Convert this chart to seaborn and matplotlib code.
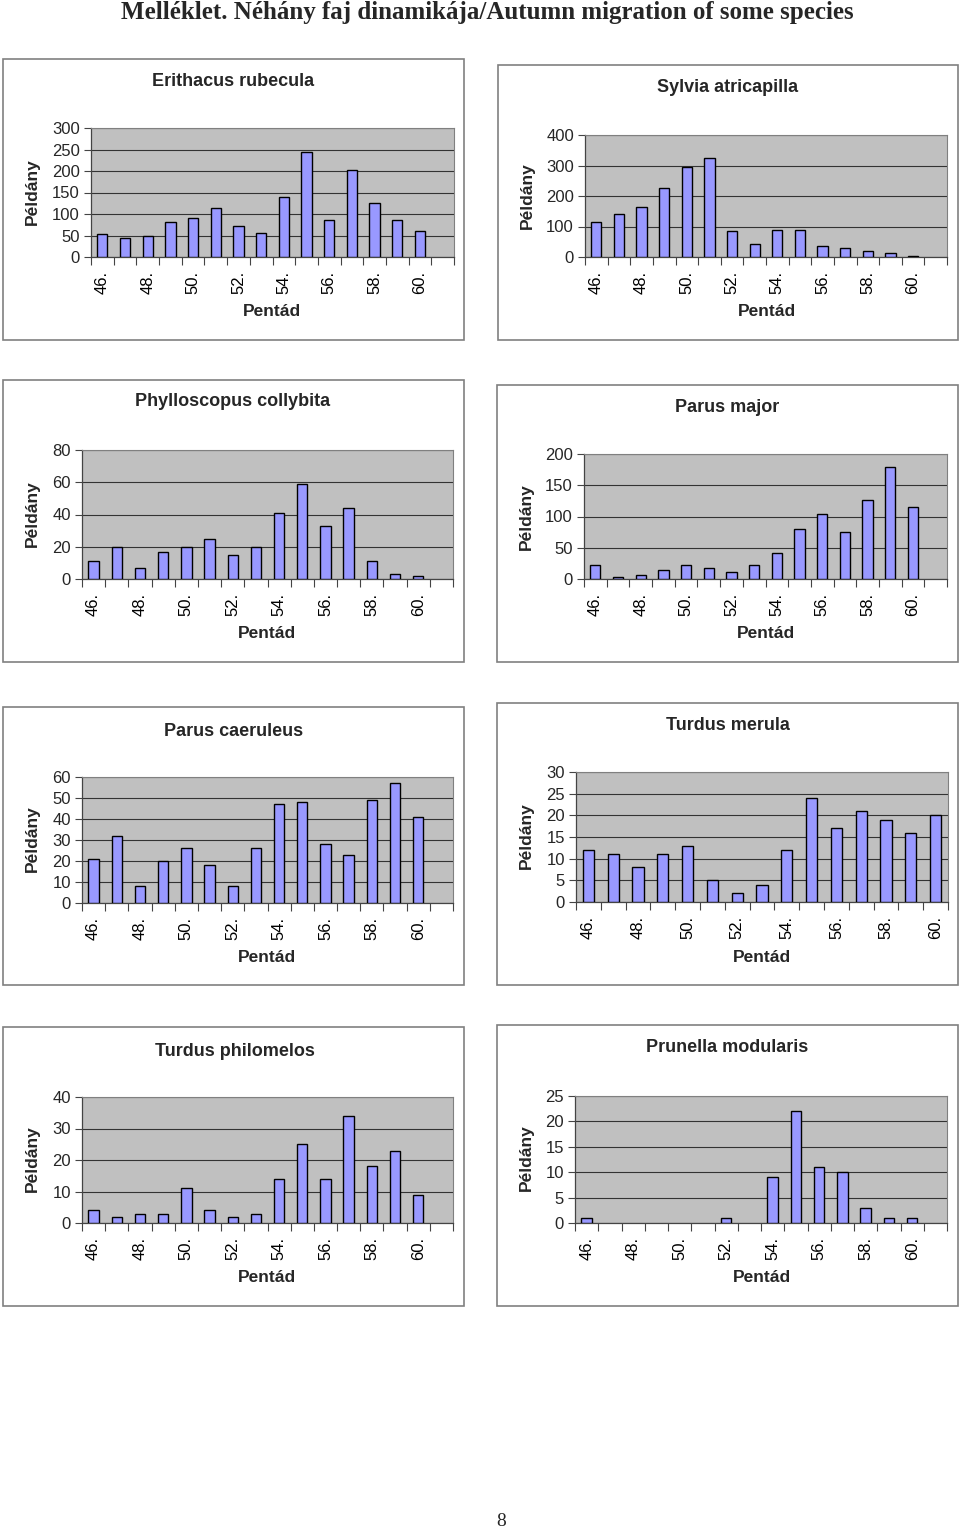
import numpy as np
import pandas as pd
import matplotlib
matplotlib.use("Agg")
import matplotlib.pyplot as plt
from matplotlib.patches import Rectangle
import seaborn as sns

sns.set_theme(style="white")
plt.rcParams["font.family"] = ["Liberation Sans", "DejaVu Sans"]

# ---------------- data ----------------
pentads = ["46.", "47.", "48.", "49.", "50.", "51.", "52.", "53.",
           "54.", "55.", "56.", "57.", "58.", "59.", "60.", "61."]

erithacus = [54, 44, 50, 81, 91, 115, 71, 55, 139, 244, 87, 202, 126, 87, 60]
sylvia = [115, 142, 164, 227, 294, 323, 86, 42, 90, 90, 37, 30, 20, 12, 4]
phylloscopus = [11, 20, 7, 17, 20, 25, 15, 20, 41, 59, 33, 44, 11, 3, 2]
parus_major = [22, 4, 6, 14, 22, 17, 11, 23, 42, 80, 104, 75, 126, 179, 115]
parus_caeruleus = [21, 32, 8, 20, 26, 18, 8, 26, 47, 48, 28, 23, 49, 57, 41]
turdus_merula = [12, 11, 8, 11, 13, 5, 2, 4, 12, 24, 17, 21, 19, 16, 20]
turdus_philomelos = [4, 2, 3, 3, 11, 4, 2, 3, 14, 25, 14, 34, 18, 23, 9]
prunella = [1, None, None, None, None, None, 1, None, 9, 22, 11, 10, 3, 1, 1]

species = ["Erithacus rubecula", "Sylvia atricapilla", "Phylloscopus collybita",
           "Parus major", "Parus caeruleus", "Turdus merula",
           "Turdus philomelos", "Prunella modularis"]
values = [erithacus, sylvia, phylloscopus, parus_major, parus_caeruleus,
          turdus_merula, turdus_philomelos, prunella]
n_slots = [16, 16, 16, 16, 16, 15, 16, 16]
y_max = [300, 400, 80, 200, 60, 30, 40, 25]
y_step = [50, 100, 20, 50, 10, 5, 10, 5]

page_title = "Melléklet. Néhány faj dinamikája/Autumn migration of some species"
y_label = "Példány"
x_label = "Pentád"

# ---------------- layout (pixels) ----------------
W, H = 960, 1530
fig = plt.figure(figsize=(W / 100, H / 100), dpi=100)
fig.patch.set_facecolor("white")

def fx(x):
    return x / W

def fy(y):
    return 1 - y / H

# plot area: left, top, right, bottom
plot_rects = [(91, 128, 454, 257), (585, 135, 947, 257),
              (82, 450, 453, 579), (584, 454, 947, 579),
              (82, 777, 453, 903), (576, 772, 948, 902),
              (82, 1097, 453, 1223), (575, 1096, 947, 1223)]
box_rects = [(3, 59, 464, 340), (498, 65, 958, 340),
             (3, 380, 464, 662), (497, 385, 958, 662),
             (3, 707, 464, 985), (497, 703, 958, 985),
             (3, 1027, 464, 1306), (497, 1025, 958, 1306)]
title_pos = [(233, 81), (728, 88), (233, 402), (727, 407),
             (234, 731), (728, 725), (235, 1051), (727, 1048)]
ylab_pos = [(32, 192), (527, 196), (32, 514), (526, 517),
            (32, 839), (526, 836), (32, 1159), (526, 1158)]
xlab_pos = [(272, 312), (767, 312), (267, 633), (766, 633),
            (267, 957), (762, 957), (267, 1278), (762, 1278)]

bar_color = "#9999FF"
bg_color = "#C0C0C0"

for i in range(8):
    l, t, r, b = box_rects[i]
    fig.patches.append(Rectangle((fx(l), fy(b)), fx(r - l), (b - t) / H,
                                 transform=fig.transFigure, fill=False,
                                 edgecolor="#808080", linewidth=1.2, zorder=0))

    l, t, r, b = plot_rects[i]
    ax = fig.add_axes([fx(l), fy(b), fx(r - l), (b - t) / H])
    order = pentads[:n_slots[i]]
    df = pd.DataFrame({"pentad": pentads[:len(values[i])],
                       "count": pd.to_numeric(pd.Series(values[i]), errors="coerce")})
    df = df.dropna()
    sns.barplot(data=df, x="pentad", y="count", order=order, color=bar_color,
                saturation=1, edgecolor="black", linewidth=1.0, width=0.45,
                errorbar=None, ax=ax, zorder=3)
    ax.set_facecolor(bg_color)
    ax.set_xlim(-0.5, n_slots[i] - 0.5)
    ax.set_ylim(0, y_max[i])
    yt = np.arange(0, y_max[i] + 1, y_step[i])
    ax.set_yticks(yt)
    ax.set_yticklabels([str(v) for v in yt])
    ax.yaxis.grid(True, color="#333333", linewidth=0.8, zorder=1)
    ax.xaxis.grid(False)
    ax.set_axisbelow(True)

    ax.set_xticks(range(n_slots[i]))
    ax.set_xticklabels([lab if k % 2 == 0 else "" for k, lab in enumerate(order)],
                       rotation=90, va="top", ha="center")
    ax.tick_params(axis="x", which="major", length=0, pad=10, labelsize=12,
                   colors="black")
    ax.set_xticks(np.arange(-0.5, n_slots[i], 1.0), minor=True)
    ax.tick_params(axis="x", which="minor", length=6, width=0.8,
                   direction="out", color="#444444", bottom=True)
    ax.tick_params(axis="y", which="major", length=5, width=0.8,
                   direction="out", color="#444444", left=True, labelsize=12,
                   pad=3)

    for side in ["top", "right"]:
        ax.spines[side].set_color("#808080")
        ax.spines[side].set_linewidth(0.8)
    for side in ["left", "bottom"]:
        ax.spines[side].set_color("#444444")
        ax.spines[side].set_linewidth(0.9)

    ax.set_ylabel(y_label, fontsize=12.5, fontweight="bold", va="center",
                  ha="center")
    ax.yaxis.set_label_coords(fx(ylab_pos[i][0]), fy(ylab_pos[i][1]),
                              transform=fig.transFigure)
    ax.set_xlabel(x_label, fontsize=12.5, fontweight="bold", va="center",
                  ha="center")
    ax.xaxis.set_label_coords(fx(xlab_pos[i][0]), fy(xlab_pos[i][1]),
                              transform=fig.transFigure)

    fig.text(fx(title_pos[i][0]), fy(title_pos[i][1]), species[i],
             fontsize=13, fontweight="bold", ha="center", va="center")

fig.text(fx(487), fy(12), page_title, family=["Liberation Serif", "DejaVu Serif"],
         fontsize=18, fontweight="bold", ha="center", va="center")
fig.text(fx(501), fy(1521), "8", family=["Liberation Serif", "DejaVu Serif"],
         fontsize=14, ha="center", va="center")

fig.savefig("out.png", dpi=100, facecolor="white")
